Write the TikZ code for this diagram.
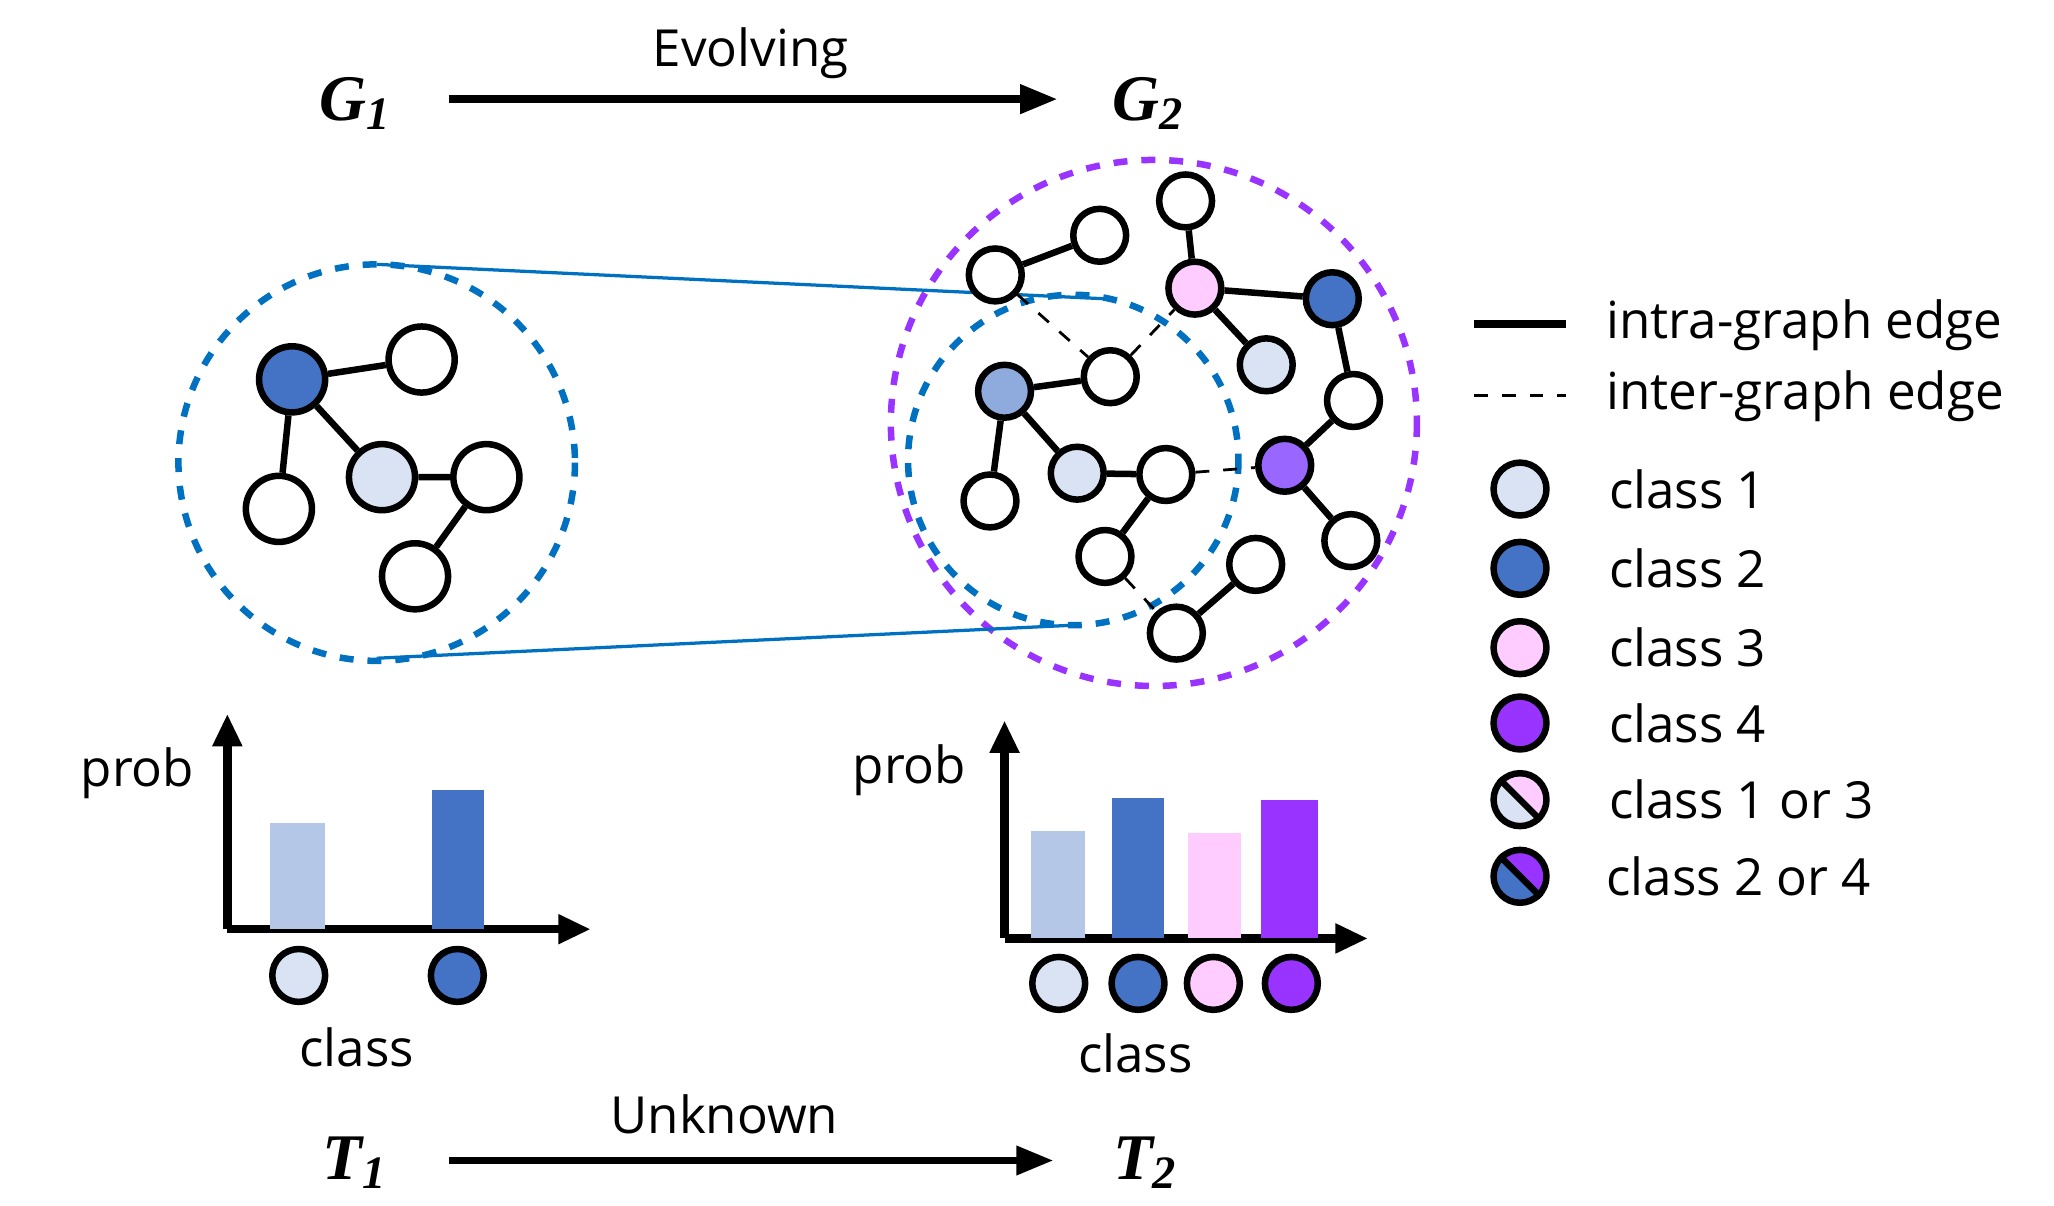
\documentclass[tikz,border=0pt]{standalone}
\usepackage{fontspec}
\setmainfont{Open Sans}
\newfontfamily\gfont{Liberation Serif}
\usetikzlibrary{arrows.meta}
\definecolor{lb}{HTML}{DAE3F3}
\definecolor{db}{HTML}{4472C4}
\definecolor{mb}{HTML}{8FAADC}
\definecolor{bb}{HTML}{B4C7E7}
\definecolor{pk}{HTML}{FFCCFF}
\definecolor{pu}{HTML}{9933FF}
\definecolor{pl}{HTML}{9966FF}
\definecolor{cb}{HTML}{0070C0}
\tikzset{
 gn/.style={circle,draw=black,line width=1.4pt,minimum size=40pt*0.01/0.03514,inner sep=0pt,fill=white},
 big/.style={circle,draw=black,line width=1.4pt,minimum size=50pt*0.01/0.03514,inner sep=0pt},
 ed/.style={line width=1.4pt},
 ie/.style={line width=0.6pt,dashed},
 ax/.style={line width=1.8pt,-{Triangle[length=7pt,width=6pt]}},
 lab/.style={font=\fontsize{11}{13}\selectfont},
 gl/.style={font=\gfont\bfseries\itshape\fontsize{14}{16}\selectfont},
}
\begin{document}
\begin{tikzpicture}[x=0.01cm,y=-0.01cm]
\useasboundingbox (0,0) rectangle (1554,912);
% titles
\node[gl] (g1) at (268,78) {G\raisebox{-0.3ex}{\fontsize{10}{12}\selectfont 1}};
\node[gl] (g2) at (868,78) {G\raisebox{-0.3ex}{\fontsize{10}{12}\selectfont 2}};
\node[gl] (t1) at (268,880) {T\raisebox{-0.3ex}{\fontsize{10}{12}\selectfont 1}};
\node[gl] (t2) at (866,880) {T\raisebox{-0.3ex}{\fontsize{10}{12}\selectfont 2}};
\coordinate (e1) at (340,75); \coordinate (e2) at (800,75);
\coordinate (u1) at (340,878); \coordinate (u2) at (797,878);
\draw[line width=1.6pt,-{Triangle[length=8pt,width=6pt]}] (e1) -- (e2);
\draw[line width=1.6pt,-{Triangle[length=8pt,width=6pt]}] (u1) -- (u2);
\node[lab] (ev) at (568,40) {Evolving};
\node[lab] (un) at (548,843) {Unknown};
% left graph
\draw[cb,dashed,line width=1.4pt] (285,350) circle (150);
\draw[cb,dashed,line width=1.4pt] (812,348) circle (125);
\draw[pu,dashed,line width=1.4pt] (873,320) circle (199);
\coordinate (lt) at (285,200); \coordinate (lbt) at (285,498);
\coordinate (rt) at (835,226); \coordinate (rbt) at (812,473);
\draw[cb,line width=0.7pt] (lt) -- (rt);
\draw[cb,line width=0.7pt] (lbt) -- (rbt);
\node[big,fill=db] (ld) at (221,287) {};
\node[big,fill=white] (la) at (319,272) {};
\node[big,fill=lb] (ll) at (289,361) {};
\node[big,fill=white] (lbn) at (368,361) {};
\node[big,fill=white] (lc) at (211,385) {};
\node[big,fill=white] (ldd) at (314,436) {};
\draw[ed] (ld)--(la) (ld)--(ll) (ld)--(lc) (ll)--(lbn) (lbn)--(ldd);
% right graph
\node[gn] (n1) at (897,152) {};
\node[gn] (n2) at (832,178) {};
\node[gn] (n3) at (753,208) {};
\node[gn,fill=pk] (p) at (904,218) {};
\node[gn,fill=db] (d2) at (1008,226) {};
\node[gn,fill=lb] (l2) at (958,276) {};
\node[gn] (n4) at (1024,303) {};
\node[gn,fill=pl] (pp) at (972,352) {};
\node[gn] (n5) at (1022,409) {};
\node[gn] (n6) at (950,427) {};
\node[gn] (n7) at (890,479) {};
\node[gn] (n8) at (836,421) {};
\node[gn] (n9) at (882,359) {};
\node[gn,fill=lb] (lc2) at (815,358) {};
\node[gn,fill=mb] (m) at (760,296) {};
\node[gn] (n10) at (749,379) {};
\node[gn] (n11) at (840,285) {};
\draw[ed] (n3)--(n2) (n1)--(p) (p)--(d2) (p)--(l2) (d2)--(n4) (n4)--(pp) (pp)--(n5)
 (m)--(n11) (m)--(n10) (m)--(lc2) (lc2)--(n9) (n9)--(n8) (n6)--(n7);
\draw[ie] (n3)--(n11) (n11)--(p) (n9)--(pp) (n8)--(n7);
% left chart
\coordinate (o1) at (172,703);
\draw[ax] (o1) -- (172,540);
\draw[ax] (o1) -- (447,703);
\fill[bb] (204,623) rectangle (246,703);
\fill[db] (327,598) rectangle (366,703);
\node[gn,fill=lb] (c1) at (226,738) {};
\node[gn,fill=db] (c2) at (346,738) {};
\node[lab] (pr1) at (104,585) {prob};
\node[lab] (cl1) at (270,792) {class};
% right chart
\coordinate (o2) at (760,710);
\draw[ax] (o2) -- (760,545);
\draw[ax] (o2) -- (1035,710);
\fill[bb] (780,629) rectangle (821,710);
\fill[db] (841,604) rectangle (881,710);
\fill[pk] (899,630) rectangle (939,710);
\fill[pu] (954,605) rectangle (997,710);
\node[gn,fill=lb] (d1) at (801,744) {};
\node[gn,fill=db] (dd2) at (861,744) {};
\node[gn,fill=pk] (d3) at (918,744) {};
\node[gn,fill=pu] (d4) at (977,744) {};
\node[lab] (pr2) at (688,583) {prob};
\node[lab] (cl2) at (859,797) {class};
% legend
\coordinate (s1) at (1115,245); \coordinate (s2) at (1185,245);
\coordinate (s3) at (1115,299); \coordinate (s4) at (1185,299);
\draw[line width=1.8pt] (s1)--(s2);
\draw[line width=0.7pt,dashed] (s3)--(s4);
\node[lab,anchor=west] (t_intra) at (1203,246) {intra-graph edge};
\node[lab,anchor=west] (t_inter) at (1203,300) {inter-graph edge};
\node[gn,fill=lb] (k1) at (1150,370) {};
\node[gn,fill=db] (k2) at (1150,430) {};
\node[gn,fill=pk] (k3) at (1150,490) {};
\node[gn,fill=pu] (k4) at (1150,547) {};
% split circles
\fill[lb] (1150,605) ++(-14.14,-14.14) arc (225:45:20) -- cycle;
\fill[pk] (1150,605) ++(-14.14,-14.14) arc (225:405:20) -- cycle;
\node[gn,fill=none] (k5) at (1150,605) {};
\draw[line width=1.4pt] (k5.north west) -- (k5.south east);
\fill[db] (1150,663) ++(-14.14,-14.14) arc (225:45:20) -- cycle;
\fill[pu] (1150,663) ++(-14.14,-14.14) arc (225:405:20) -- cycle;
\node[gn,fill=none] (k6) at (1150,663) {};
\draw[line width=1.4pt] (k6.north west) -- (k6.south east);
\node[lab,anchor=west] (q1) at (1205,370) {class 1};
\node[lab,anchor=west] (q2) at (1205,430) {class 2};
\node[lab,anchor=west] (q3) at (1205,490) {class 3};
\node[lab,anchor=west] (q4) at (1205,547) {class 4};
\node[lab,anchor=west] (q5) at (1205,605) {class 1 or 3};
\node[lab,anchor=west] (q6) at (1203,663) {class 2 or 4};
\end{tikzpicture}
\end{document}
